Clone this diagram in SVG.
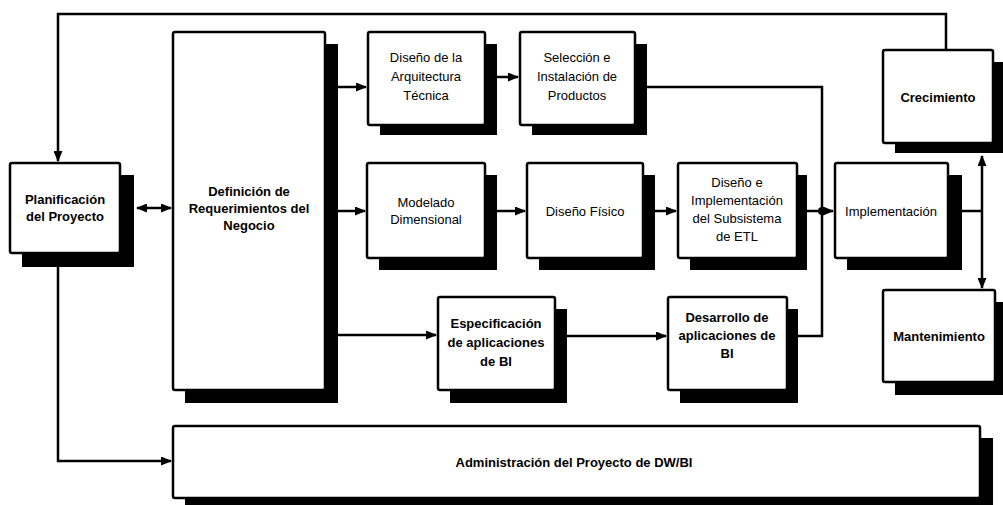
<svg xmlns="http://www.w3.org/2000/svg" width="1003" height="505" viewBox="0 0 1003 505">
<style>
.box{fill:#fff;stroke:#000;stroke-width:2.5}
.sh{fill:#000}
.c{fill:none;stroke:#000;stroke-width:2.5}
text{font-family:"Liberation Sans",Arial,sans-serif;font-size:13px;fill:#000;text-anchor:middle}
.b{font-weight:bold}
</style>
<defs>
<marker id="ah" markerUnits="userSpaceOnUse" markerWidth="11" markerHeight="9" refX="10" refY="4.5" orient="auto-start-reverse">
<path d="M0,0 L11,4.5 L0,9 z" fill="#000"/>
</marker>
</defs>
<rect width="1003" height="505" fill="#fff"/>
<g id="connectors">
<path class="c" d="M946,50 V14 H58 V161" marker-end="url(#ah)"/>
<path class="c" d="M137,208 H171" marker-start="url(#ah)" marker-end="url(#ah)"/>
<path class="c" d="M338,87 H366" marker-end="url(#ah)"/>
<path class="c" d="M497,77 H518" marker-end="url(#ah)"/>
<path class="c" d="M647,87 H822 V336 H798"/>
<path class="c" d="M338,211 H365" marker-end="url(#ah)"/>
<path class="c" d="M497,211 H525" marker-end="url(#ah)"/>
<path class="c" d="M655,211 H676" marker-end="url(#ah)"/>
<path class="c" d="M807,211 H833" marker-end="url(#ah)"/>
<circle cx="822" cy="211" r="4" fill="#000"/>
<path class="c" d="M962,211 H982"/>
<path class="c" d="M982,211 V156" marker-end="url(#ah)"/>
<path class="c" d="M982,211 V288" marker-end="url(#ah)"/>
<path class="c" d="M338,335 H436" marker-end="url(#ah)"/>
<path class="c" d="M567,336 H666" marker-end="url(#ah)"/>
<path class="c" d="M58,267 V461 H171" marker-end="url(#ah)"/>
</g>
<g id="planificacion">
<rect class="sh" x="22" y="175" width="112" height="92"/>
<rect class="box" x="10" y="163" width="110" height="90" rx="2"/>
<text class="b" x="65" y="204">Planificación</text>
<text class="b" x="65" y="221">del Proyecto</text>
</g>
<g id="definicion">
<rect class="sh" x="185" y="44" width="153" height="359"/>
<rect class="box" x="173" y="32" width="152" height="358" rx="2"/>
<text class="b" x="249" y="196">Definición de</text>
<text class="b" x="249" y="213">Requerimientos del</text>
<text class="b" x="249" y="230">Negocio</text>
</g>
<g id="arquitectura">
<rect class="sh" x="380" y="44" width="117" height="91"/>
<rect class="box" x="368" y="32" width="117" height="93" rx="2"/>
<text x="426" y="62">Diseño de la</text>
<text x="426" y="81">Arquitectura</text>
<text x="426" y="100">Técnica</text>
</g>
<g id="seleccion">
<rect class="sh" x="532" y="44" width="115" height="91"/>
<rect class="box" x="520" y="32" width="115" height="93" rx="2"/>
<text x="577" y="62">Selección e</text>
<text x="577" y="81">Instalación de</text>
<text x="577" y="100">Productos</text>
</g>
<g id="modelado">
<rect class="sh" x="379" y="175" width="118" height="95"/>
<rect class="box" x="367" y="163" width="118" height="95" rx="2"/>
<text x="426" y="207">Modelado</text>
<text x="426" y="224">Dimensional</text>
</g>
<g id="fisico">
<rect class="sh" x="539" y="175" width="116" height="95"/>
<rect class="box" x="527" y="163" width="116" height="95" rx="2"/>
<text x="585" y="216">Diseño Físico</text>
</g>
<g id="etl">
<rect class="sh" x="690" y="175" width="117" height="95"/>
<rect class="box" x="678" y="163" width="119" height="95" rx="2"/>
<text x="737" y="187">Diseño e</text>
<text x="737" y="205">Implementación</text>
<text x="737" y="223">del Subsistema</text>
<text x="737" y="241">de ETL</text>
</g>
<g id="implementacion">
<rect class="sh" x="847" y="175" width="115" height="95"/>
<rect class="box" x="835" y="163" width="113" height="95" rx="2"/>
<text x="891" y="216">Implementación</text>
</g>
<g id="crecimiento">
<rect class="sh" x="895" y="62" width="110" height="91"/>
<rect class="box" x="883" y="50" width="110" height="93" rx="2"/>
<text class="b" x="938" y="102">Crecimiento</text>
</g>
<g id="mantenimiento">
<rect class="sh" x="895" y="302" width="110" height="93"/>
<rect class="box" x="883" y="290" width="112" height="92" rx="2"/>
<text class="b" x="939" y="341">Mantenimiento</text>
</g>
<g id="especificacion">
<rect class="sh" x="450" y="309" width="117" height="94"/>
<rect class="box" x="438" y="297" width="117" height="93" rx="2"/>
<text class="b" x="496" y="328">Especificación</text>
<text class="b" x="496" y="347">de aplicaciones</text>
<text class="b" x="496" y="366">de BI</text>
</g>
<g id="desarrollo">
<rect class="sh" x="680" y="309" width="118" height="94"/>
<rect class="box" x="668" y="297" width="119" height="93" rx="2"/>
<text class="b" x="727" y="322">Desarrollo de</text>
<text class="b" x="727" y="340">aplicaciones de</text>
<text class="b" x="727" y="358">BI</text>
</g>
<g id="administracion">
<rect class="sh" x="185" y="438" width="808" height="72"/>
<rect class="box" x="173" y="426" width="807" height="72" rx="2"/>
<text class="b" x="574" y="467">Administración del Proyecto de DW/BI</text>
</g>
</svg>
